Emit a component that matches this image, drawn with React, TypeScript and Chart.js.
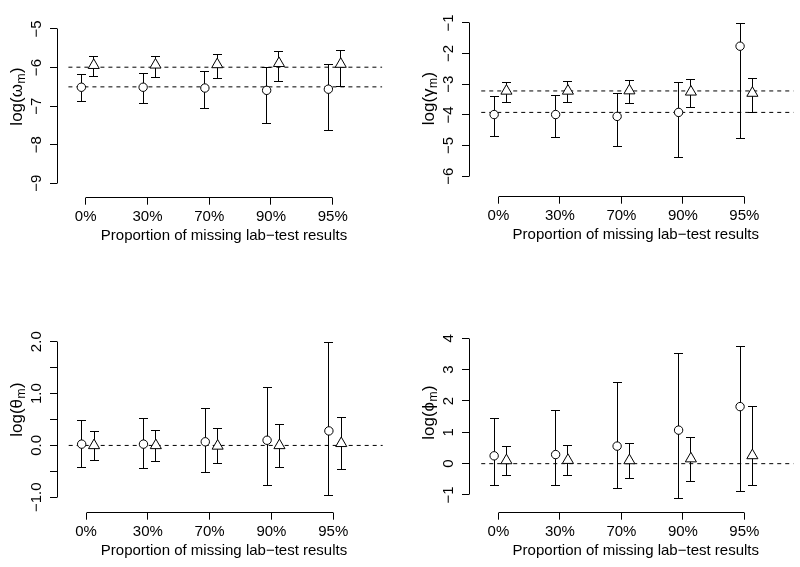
import React, { useEffect, useRef } from "react";
import { Chart, registerables } from "chart.js";

Chart.register(...registerables);

// ---------- data ----------
const categories = ["0%", "30%", "70%", "90%", "95%"];
const xTickValues = [1, 2, 3, 4, 5];
const circleOffset = -0.07;
const triangleOffset = 0.13;
const xTitle = "Proportion of missing lab\u2212test results";

// log(omega_m)
const omegaCircleEst = [-6.51, -6.51, -6.53, -6.59, -6.56];
const omegaCircleLo = [-6.89, -6.93, -7.05, -7.44, -7.64];
const omegaCircleHi = [-6.17, -6.15, -6.09, -6.0, -5.91];
const omegaTriEst = [-5.94, -5.93, -5.92, -5.89, -5.91];
const omegaTriLo = [-6.24, -6.25, -6.29, -6.37, -6.49];
const omegaTriHi = [-5.72, -5.7, -5.66, -5.59, -5.55];
const omegaRef = [-5.99, -6.5];
const omegaTicks = [-9, -8, -7, -6, -5];
const omegaTickLabels = ["\u22129", "\u22128", "\u22127", "\u22126", "\u22125"];

// log(gamma_m)
const gammaCircleEst = [-3.99, -3.99, -4.05, -3.92, -1.76];
const gammaCircleLo = [-4.7, -4.75, -5.02, -5.39, -4.76];
const gammaCircleHi = [-3.41, -3.38, -3.3, -2.96, -1.02];
const gammaTriEst = [-3.22, -3.22, -3.21, -3.25, -3.29];
const gammaTriLo = [-3.6, -3.6, -3.64, -3.76, -3.91];
const gammaTriHi = [-2.93, -2.92, -2.88, -2.86, -2.81];
const gammaRef = [-3.22, -3.92];
const gammaTicks = [-6, -5, -4, -3, -2, -1];
const gammaTickLabels = ["\u22126", "\u22125", "\u22124", "\u22123", "\u22122", "\u22121"];

// log(theta_m)
const thetaCircleEst = [0.025, 0.025, 0.07, 0.1, 0.28];
const thetaCircleLo = [-0.42, -0.45, -0.53, -0.77, -0.96];
const thetaCircleHi = [0.48, 0.52, 0.71, 1.11, 1.98];
const thetaTriEst = [0.0, 0.0, -0.01, 0.0, 0.04];
const thetaTriLo = [-0.3, -0.31, -0.35, -0.42, -0.46];
const thetaTriHi = [0.27, 0.28, 0.32, 0.4, 0.54];
const thetaRef = [0];
const thetaTicks = [-1, -0.5, 0, 0.5, 1, 1.5, 2];
const thetaTickLabels = ["\u22121.0", "", "0.0", "", "1.0", "", "2.0"];

// log(phi_m)
const phiCircleEst = [0.25, 0.29, 0.56, 1.07, 1.82];
const phiCircleLo = [-0.69, -0.71, -0.8, -1.1, -0.9];
const phiCircleHi = [1.45, 1.69, 2.58, 3.52, 3.75];
const phiTriEst = [0.1, 0.11, 0.1, 0.16, 0.26];
const phiTriLo = [-0.37, -0.39, -0.48, -0.56, -0.69];
const phiTriHi = [0.54, 0.57, 0.64, 0.83, 1.82];
const phiRef = [0];
const phiTicks = [-1, 0, 1, 2, 3, 4];
const phiTickLabels = ["\u22121", "0", "1", "2", "3", "4"];

// ---------- styling / layout ----------
const FONT = '"Liberation Sans", Arial, Helvetica, sans-serif';
const FONT_SIZE = 15;
const TITLE_SIZE = 17;
const TICK_LEN = 7;
const CAP = 4.5;
const X_SCALE_H = 50;
const REF_FROM = 0.72;
const REF_TO = 5.8;

type Panel = {
  left: number; top: number; w: number; h: number;
  caLeft: number; caRight: number; caTop: number; caBottom: number;
  xMin: number; xMax: number; yMin: number; yMax: number;
  titleX: number; titleY: number; greek: string;
  cEst: number[]; cLo: number[]; cHi: number[];
  tEst: number[]; tLo: number[]; tHi: number[];
  refs: number[]; yTicks: number[]; yLabels: string[];
};

const panels: Panel[] = [
  {
    left: 0, top: 0, w: 400, h: 284,
    caLeft: 57, caRight: 391, caTop: 19, caBottom: 197.7,
    xMin: 0.5352, xMax: 5.944, yMin: -9.3733, yMax: -4.7408,
    titleX: 17, titleY: 97, greek: "\u03c9",
    cEst: omegaCircleEst, cLo: omegaCircleLo, cHi: omegaCircleHi,
    tEst: omegaTriEst, tLo: omegaTriLo, tHi: omegaTriHi,
    refs: omegaRef, yTicks: omegaTicks, yLabels: omegaTickLabels,
  },
  {
    left: 400, top: 0, w: 410, h: 284,
    caLeft: 69, caRight: 405.4, caTop: 3.3, caBottom: 196.7,
    xMin: 0.521, xMax: 5.947, yMin: -6.671, yMax: -0.6908,
    titleX: 29.5, titleY: 99, greek: "\u03b3",
    cEst: gammaCircleEst, cLo: gammaCircleLo, cHi: gammaCircleHi,
    tEst: gammaTriEst, tLo: gammaTriLo, tHi: gammaTriHi,
    refs: gammaRef, yTicks: gammaTicks, yLabels: gammaTickLabels,
  },
  {
    left: 0, top: 284, w: 400, h: 283,
    caLeft: 57, caRight: 391, caTop: 47.7, caBottom: 228.7,
    xMin: 0.5307, xMax: 5.935, yMin: -1.2969, yMax: 2.1928,
    titleX: 17, titleY: 126, greek: "\u03b8",
    cEst: thetaCircleEst, cLo: thetaCircleLo, cHi: thetaCircleHi,
    tEst: thetaTriEst, tLo: thetaTriLo, tHi: thetaTriHi,
    refs: thetaRef, yTicks: thetaTicks, yLabels: thetaTickLabels,
  },
  {
    left: 400, top: 284, w: 410, h: 283,
    caLeft: 69, caRight: 405.4, caTop: 44.3, caBottom: 228.7,
    xMin: 0.521, xMax: 5.947, yMin: -1.5648, yMax: 4.3191,
    titleX: 29.5, titleY: 129, greek: "\u03d5",
    cEst: phiCircleEst, cLo: phiCircleLo, cHi: phiCircleHi,
    tEst: phiTriEst, tLo: phiTriLo, tHi: phiTriHi,
    refs: phiRef, yTicks: phiTicks, yLabels: phiTickLabels,
  },
];

function measureWidest(labels: string[]): number {
  const c = document.createElement("canvas").getContext("2d")!;
  c.font = `${FONT_SIZE}px ${FONT}`;
  return Math.max(...labels.map((l) => c.measureText(l).width));
}

const align = (p: number) => Math.round(p - 0.5) + 0.5;

const errorBarPlugin = {
  id: "errorBars",
  beforeDatasetsDraw(chart: any) {
    const ctx = chart.ctx;
    const xs = chart.scales.x;
    const ys = chart.scales.y;
    ctx.save();
    ctx.strokeStyle = "#000";
    ctx.lineWidth = 1;
    chart.data.datasets.forEach((ds: any) => {
      if (!ds.errLo) return;
      ds.data.forEach((p: any, i: number) => {
        const x = align(xs.getPixelForValue(p.x));
        const y1 = align(ys.getPixelForValue(ds.errLo[i]));
        const y2 = align(ys.getPixelForValue(ds.errHi[i]));
        ctx.beginPath();
        ctx.moveTo(x, y1);
        ctx.lineTo(x, y2);
        ctx.moveTo(x - CAP, y1);
        ctx.lineTo(x + CAP, y1);
        ctx.moveTo(x - CAP, y2);
        ctx.lineTo(x + CAP, y2);
        ctx.stroke();
      });
    });
    ctx.restore();
  },
};

const axisLinePlugin = {
  id: "axisLines",
  afterDraw(chart: any) {
    const ctx = chart.ctx;
    const xs = chart.scales.x;
    const ys = chart.scales.y;
    const ca = chart.chartArea;
    ctx.save();
    ctx.strokeStyle = "#000";
    ctx.lineWidth = 1;
    ctx.beginPath();
    const yt = ys.ticks;
    const x0 = align(ca.left);
    ctx.moveTo(x0, align(ys.getPixelForValue(yt[0].value)));
    ctx.lineTo(x0, align(ys.getPixelForValue(yt[yt.length - 1].value)));
    const xt = xs.ticks;
    const y0 = align(ca.bottom);
    ctx.moveTo(align(xs.getPixelForValue(xt[0].value)), y0);
    ctx.lineTo(align(xs.getPixelForValue(xt[xt.length - 1].value)), y0);
    ctx.stroke();
    ctx.restore();
  },
};

const yTitlePlugin = {
  id: "yTitle",
  afterDraw(chart: any, _args: any, opts: any) {
    const ctx = chart.ctx;
    ctx.save();
    ctx.translate(opts.x, opts.y);
    ctx.rotate(-Math.PI / 2);
    ctx.fillStyle = "#000";
    ctx.textBaseline = "middle";
    ctx.textAlign = "left";
    const big = `${TITLE_SIZE}px ${FONT}`;
    const small = `${Math.round(TITLE_SIZE * 0.72)}px ${FONT}`;
    const pre = "log(" + opts.greek;
    const sub = "m";
    const post = ")";
    ctx.font = big;
    const w1 = ctx.measureText(pre).width;
    const w3 = ctx.measureText(post).width;
    ctx.font = small;
    const w2 = ctx.measureText(sub).width;
    let cx = -(w1 + w2 + w3) / 2;
    ctx.font = big;
    ctx.fillText(pre, cx, 0);
    cx += w1;
    ctx.font = small;
    ctx.fillText(sub, cx + 0.5, 4.5);
    cx += w2 + 1;
    ctx.font = big;
    ctx.fillText(post, cx, 0);
    ctx.restore();
  },
};

function buildConfig(p: Panel): any {
  const font = { size: FONT_SIZE, family: FONT };
  const grid = {
    display: true,
    drawOnChartArea: false,
    drawTicks: true,
    tickLength: TICK_LEN,
    color: "#000",
    lineWidth: 1,
  };
  const yPad = 20 - TICK_LEN - measureWidest(p.yLabels) / 2;
  const markerCommon = {
    showLine: false,
    pointBackgroundColor: "#fff",
    pointBorderColor: "#000",
    pointBorderWidth: 1,
  };
  const refSets = p.refs.map((v) => ({
    type: "line",
    showLine: true,
    data: [
      { x: REF_FROM, y: v },
      { x: REF_TO, y: v },
    ],
    borderColor: "#000",
    borderWidth: 1,
    borderDash: [4, 4],
    pointRadius: 0,
    fill: false,
  }));
  return {
    type: "scatter",
    data: {
      datasets: [
        {
          ...markerCommon,
          data: xTickValues.map((x, i) => ({ x: x + circleOffset, y: p.cEst[i] })),
          errLo: p.cLo,
          errHi: p.cHi,
          pointStyle: "circle",
          pointRadius: 4.2,
        },
        {
          ...markerCommon,
          data: xTickValues.map((x, i) => ({ x: x + triangleOffset, y: p.tEst[i] })),
          errLo: p.tLo,
          errHi: p.tHi,
          pointStyle: "triangle",
          pointRadius: 6.4,
        },
        ...refSets,
      ],
    },
    options: {
      responsive: false,
      animation: false,
      events: [],
      layout: {
        padding: {
          left: 0,
          top: p.caTop,
          right: p.w - p.caRight,
          bottom: p.h - p.caBottom - X_SCALE_H,
        },
      },
      plugins: {
        legend: { display: false },
        tooltip: { enabled: false },
        yTitle: { x: p.titleX, y: p.titleY, greek: p.greek },
      },
      scales: {
        x: {
          type: "linear",
          position: "bottom",
          min: p.xMin,
          max: p.xMax,
          afterBuildTicks: (s: any) => {
            s.ticks = xTickValues.map((v) => ({ value: v }));
          },
          afterFit: (s: any) => {
            s.height = X_SCALE_H;
          },
          grid,
          border: { display: false },
          ticks: {
            autoSkip: false,
            minRotation: 0,
            maxRotation: 0,
            padding: 3,
            color: "#000",
            font,
            callback: (v: number) => {
              const i = xTickValues.indexOf(v);
              return i >= 0 ? categories[i] : "";
            },
          },
          title: {
            display: true,
            text: xTitle,
            color: "#000",
            font,
            padding: { top: 0, bottom: 3 },
          },
        },
        y: {
          type: "linear",
          position: "left",
          min: p.yMin,
          max: p.yMax,
          afterBuildTicks: (s: any) => {
            s.ticks = p.yTicks.map((v) => ({ value: v }));
          },
          afterFit: (s: any) => {
            s.width = p.caLeft;
          },
          grid,
          border: { display: false },
          ticks: {
            autoSkip: false,
            minRotation: 90,
            maxRotation: 90,
            crossAlign: "center",
            padding: yPad,
            color: "#000",
            font,
            callback: (v: number) => {
              const i = p.yTicks.indexOf(v);
              return i >= 0 ? p.yLabels[i] : "";
            },
          },
        },
      },
    },
    plugins: [errorBarPlugin, axisLinePlugin, yTitlePlugin],
  };
}

export default function App() {
  const refs = useRef<(HTMLCanvasElement | null)[]>([]);

  useEffect(() => {
    const charts = panels.map((p, i) => new Chart(refs.current[i] as HTMLCanvasElement, buildConfig(p)));
    return () => charts.forEach((c) => c.destroy());
  }, []);

  return (
    <div
      style={{
        position: "absolute",
        left: 0,
        top: 0,
        width: 800,
        height: 567,
        overflow: "hidden",
        background: "#fff",
      }}
    >
      {panels.map((p, i) => (
        <canvas
          key={i}
          ref={(el) => {
            refs.current[i] = el;
          }}
          width={p.w}
          height={p.h}
          style={{ position: "absolute", left: p.left, top: p.top, width: p.w, height: p.h, display: "block" }}
        />
      ))}
    </div>
  );
}
